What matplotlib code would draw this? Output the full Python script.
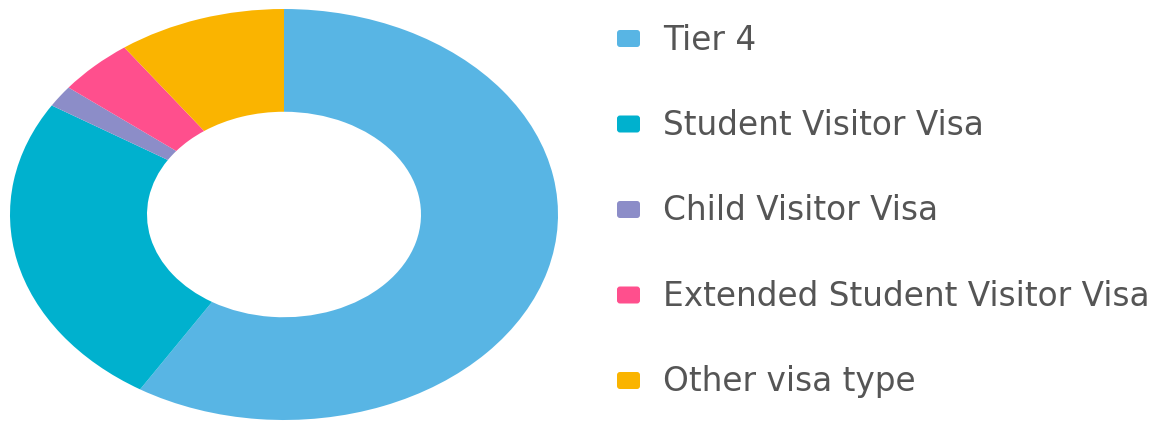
import matplotlib
matplotlib.use("Agg")
import matplotlib.pyplot as plt
from matplotlib.patches import FancyBboxPatch

labels = ["Tier 4", "Student Visitor Visa", "Child Visitor Visa",
          "Extended Student Visitor Visa", "Other visa type"]
shares = [58.8, 25.1, 1.7, 4.5, 9.9]
colors = ["#58B5E4", "#00B1CE", "#8C8DC8", "#FF4F8D", "#FAB400"]

W, H = 1171, 422
fig = plt.figure(figsize=(W / 100, H / 100), dpi=100)

# donut (stretched horizontally like the source picture)
ax = fig.add_axes([10 / W, 2 / H, 548 / W, 411 / H])
ax.pie(shares, colors=colors, startangle=90, counterclock=False,
       radius=1, wedgeprops=dict(width=0.5, linewidth=0))
ax.set_aspect("auto")
ax.set_xlim(-1, 1)
ax.set_ylim(-1, 1)
ax.axis("off")

# legend drawn in pixel coordinates
lax = fig.add_axes([0, 0, 1, 1])
lax.set_xlim(0, W)
lax.set_ylim(H, 0)
lax.axis("off")

first_y = 38.5
step = 85.5
for i, (lab, col) in enumerate(zip(labels, colors)):
    yc = first_y + i * step
    box = FancyBboxPatch((617, yc - 8.5), 23, 17,
                         boxstyle="round,pad=0,rounding_size=3",
                         facecolor=col, edgecolor="none")
    lax.add_patch(box)
    lax.text(663, yc + 11, lab, fontsize=23.6, color="#555555",
             va="baseline", ha="left", family="DejaVu Sans")

fig.savefig("out.png", dpi=100)
